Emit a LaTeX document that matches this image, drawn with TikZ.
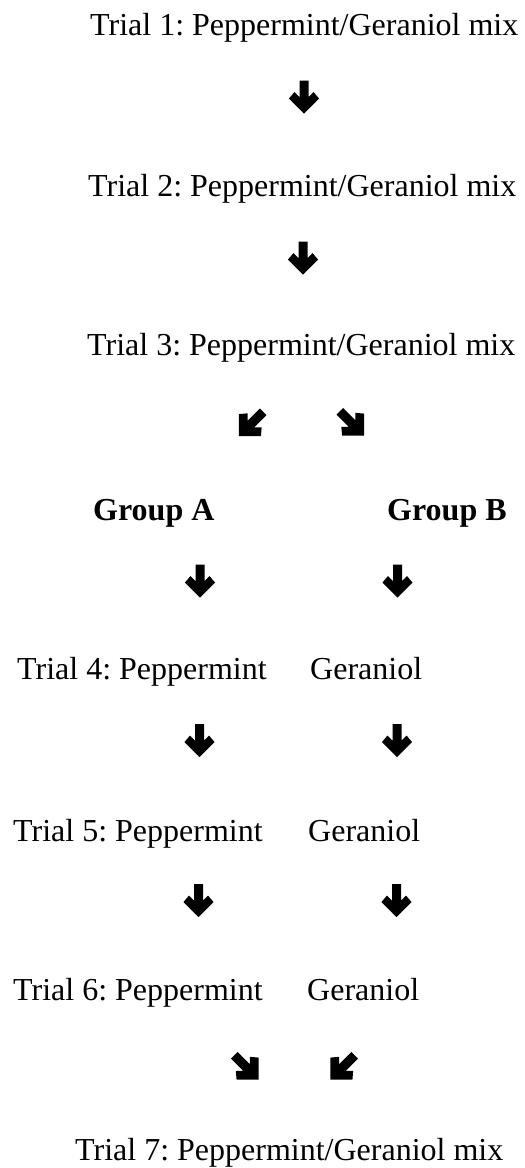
\documentclass[tikz,border=0pt]{standalone}
\usepackage{fontspec}
\setmainfont{Liberation Serif}
\frenchspacing
\begin{document}
\begin{tikzpicture}[x=1pt,y=-1pt,
  lbl/.style={inner sep=0pt,anchor=base west,font=\fontsize{32}{38}\selectfont},
  grp/.style={lbl,font=\fontsize{32}{38}\selectfont\bfseries},
  bigarrow/.pic={
    \fill[black] (-4.5,-16.5) -- (4.5,-16.5) -- (4.5,0) -- (9.5,-5)
      -- (15,1.5) -- (0,16.5) -- (-15,1.5) -- (-9.5,-5)
      -- (-4.5,0) -- cycle;
  }]
\useasboundingbox (0,0) rectangle (525,1168);
% texts
\node[lbl] (t1) at (90,35) {Trial 1: Peppermint/Geraniol mix};
\node[lbl] (t2) at (88,196) {Trial 2: Peppermint/Geraniol mix};
\node[lbl] (t3) at (87,355.5) {Trial 3: Peppermint/Geraniol mix};
\node[grp] (ga) at (93,520.5) {Group A};
\node[grp] (gb) at (387,520.5) {Group B};
\node[lbl] (t4) at (17,679) {Trial 4: Peppermint};
\node[lbl] (g4) at (310,679) {Geraniol};
\node[lbl] (t5) at (13,841) {Trial 5: Peppermint};
\node[lbl] (g5) at (308,841) {Geraniol};
\node[lbl] (t6) at (13,1000) {Trial 6: Peppermint};
\node[lbl] (g6) at (307,1000) {Geraniol};
\node[lbl] (t7) at (75,1160) {Trial 7: Peppermint/Geraniol mix};
% arrows
\pic at (304,97) {bigarrow};
\pic at (303,258) {bigarrow};
\pic[rotate=-45,scale=1.04] at (251,424) {bigarrow};
\pic[rotate=45,scale=1.04] at (352,423.5) {bigarrow};
\pic at (200,581) {bigarrow};
\pic at (397.5,581) {bigarrow};
\pic at (199.5,740.5) {bigarrow};
\pic at (397,740.5) {bigarrow};
\pic at (198.5,900.5) {bigarrow};
\pic at (396.5,900.5) {bigarrow};
\pic[rotate=45,scale=1.04] at (246.5,1067.5) {bigarrow};
\pic[rotate=-45,scale=1.04] at (342.5,1067.5) {bigarrow};
\end{tikzpicture}
\end{document}
